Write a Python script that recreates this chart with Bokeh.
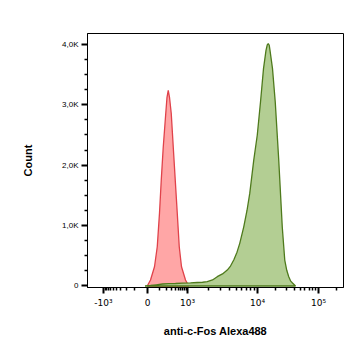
import numpy as np
from bokeh.plotting import figure
from bokeh.models import FixedTicker, Range1d
from bokeh.embed import file_html
from bokeh.resources import INLINE

# Display channel (biexponential scale, 0..1024) and counts
red_x = [239, 252, 268, 279, 288, 295, 303, 313, 318, 323, 328, 335, 343, 351, 359, 367, 376, 392, 405]
red_y = [0, 99, 319, 650, 1207, 1752, 2302, 2855, 3124, 3240, 3124, 2855, 2302, 1752, 1207, 650, 319, 99, 0]

green_x = [230, 252, 275, 300, 325, 352, 380, 412, 439, 460, 479, 500, 519, 540, 559, 572, 585, 598, 609,
           625, 638, 649, 665, 679, 692, 704, 714, 719, 723, 727, 730, 740, 751, 759, 765, 772, 779, 789,
           797, 805, 813, 820, 832]
green_y = [0, 8, 20, 33, 38, 41, 46, 50, 58, 62, 71, 100, 154, 200, 264, 330, 430, 560, 706,
           980, 1250, 1532, 2083, 2496, 3046, 3598, 3901, 3990, 4012, 3985, 3901, 3598, 3046, 2496, 2083, 1532, 980, 430,
           260, 154, 80, 50, 0]

# Axis: values and tick labels
x_tick_values = [-1000, 0, 1000, 10000, 100000]
x_tick_labels = ["-10\u00b3", "0", "10\u00b3", "10\u2074", "10\u2075"]
x_anchor_channels = [64, 240, 400, 680, 924]
y_tick_values = [0, 1000, 2000, 3000, 4000]
y_tick_labels = ["0", "1,0K", "2,0K", "3,0K", "4,0K"]
y_minor_values = [250, 500, 750, 1250, 1500, 1750, 2250, 2500, 2750, 3250, 3500, 3750]


def to_channel(v):
    s = np.arcsinh(np.asarray(v, dtype=float) / 100.0)
    a = np.arcsinh(np.asarray(x_tick_values, dtype=float) / 100.0)
    c = np.asarray(x_anchor_channels, dtype=float)
    out = np.interp(s, a, c)
    slope = (c[-1] - c[-2]) / (a[-1] - a[-2])
    out = np.where(s > a[-1], c[-1] + (s - a[-1]) * slope, out)
    return out


minor_vals = [-k * 100 for k in range(1, 10)] + [k * 100 for k in range(1, 10)]
minor_vals += [k * 1000 for k in range(2, 10)] + [k * 10000 for k in range(2, 10)] + [200000]
minor_ch = [float(c) for c in to_channel(minor_vals) if 0 < c < 1024]
major_ch = [float(c) for c in to_channel(x_tick_values)]

FONT = "Liberation Sans"

p = figure(width=364, height=355, output_backend="svg", toolbar_location=None,
           x_range=Range1d(0, 1024), y_range=Range1d(-25, 4180),
           min_border_left=87, min_border_right=21, min_border_top=33, min_border_bottom=68)
p.xgrid.visible = False
p.ygrid.visible = False
p.outline_line_color = "black"
p.outline_line_width = 1
p.background_fill_color = "white"
p.border_fill_color = "white"

p.patch(red_x, red_y, fill_color="#FFA6A6", fill_alpha=1.0, line_color="#E0424A", line_width=1.3)
p.patch(green_x, green_y, fill_color="#B3CE93", fill_alpha=1.0, line_color="#4E7A1C", line_width=1.3)

xa = p.xaxis[0]
xa.ticker = FixedTicker(ticks=major_ch, minor_ticks=minor_ch)
xa.major_label_overrides = {major_ch[i]: x_tick_labels[i] for i in range(len(major_ch))}
xa.axis_label = "anti-c-Fos Alexa488"

ya = p.yaxis[0]
ya.ticker = FixedTicker(ticks=y_tick_values, minor_ticks=y_minor_values)
ya.major_label_overrides = {y_tick_values[i]: y_tick_labels[i] for i in range(len(y_tick_values))}
ya.axis_label = "Count"

for ax in (xa, ya):
    ax.axis_line_color = "black"
    ax.axis_line_width = 1
    ax.major_tick_in = 0
    ax.major_tick_out = 6
    ax.major_tick_line_width = 2
    ax.minor_tick_in = 0
    ax.minor_tick_out = 3
    ax.minor_tick_line_width = 1.5
    ax.major_label_text_font = FONT
    ax.major_label_text_color = "black"
    ax.axis_label_text_font = FONT
    ax.axis_label_text_font_style = "bold"
    ax.axis_label_text_font_size = "11px"
    ax.axis_label_text_color = "black"

xa.major_label_text_font = "DejaVu Sans"
xa.major_label_text_font_size = "9px"
xa.major_label_standoff = 4
xa.axis_label_standoff = 14
ya.major_label_text_font_size = "8px"
ya.major_label_standoff = 3
ya.axis_label_standoff = 25

open("out.html", "w").write(file_html(p, INLINE))
